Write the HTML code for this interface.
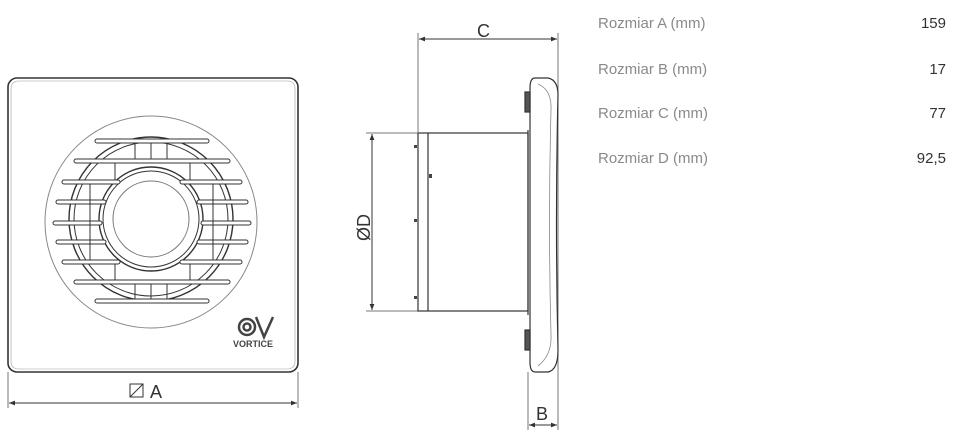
<!DOCTYPE html>
<html><head><style>
body{margin:0;background:#fff;width:954px;height:437px;overflow:hidden;font-family:"Liberation Sans",sans-serif}
.l{position:absolute;left:598px;font-size:15px;color:#8a8a8a}
.v{position:absolute;right:8px;font-size:15px;color:#333;text-align:right}
</style></head><body>
<svg width="954" height="437" style="position:absolute;left:0;top:0" font-family="Liberation Sans, sans-serif">
<defs><marker id="a" viewBox="0 0 10 10" refX="10" refY="5" markerWidth="8" markerHeight="6" orient="auto-start-reverse"><path d="M0,1L10,5L0,9z" fill="#333"/></marker></defs>
<g fill="none" stroke="#333">
<rect x="8" y="78" width="290" height="294" rx="9" stroke-width="1.6"/>
<rect x="11" y="81" width="284" height="288" rx="7" stroke="#999" stroke-width="0.6"/>
<circle cx="151" cy="222" r="106" stroke="#888" stroke-width="1"/>
<circle cx="151" cy="219" r="82" stroke-width="1.4"/>
<circle cx="151" cy="219" r="77" stroke-width="1"/>
<circle cx="151" cy="219" r="52" stroke-width="1.4"/>
<circle cx="151" cy="219" r="48" stroke-width="1"/>
<circle cx="151" cy="219" r="38" stroke="#777" stroke-width="1"/>
</g>
<g stroke="#333" stroke-width="1" fill="#fff">
<rect x="95" y="139" width="114" height="4" rx="2"/>
<rect x="74" y="159" width="156" height="4" rx="2"/>
<rect x="62" y="180" width="58" height="4" rx="2"/><rect x="180" y="180" width="62" height="4" rx="2"/>
<rect x="56" y="200" width="50" height="4" rx="2"/><rect x="197" y="200" width="51" height="4" rx="2"/>
<rect x="53" y="221" width="49" height="4" rx="2"/><rect x="201" y="221" width="50" height="4" rx="2"/>
<rect x="56" y="240" width="50" height="4" rx="2"/><rect x="197" y="240" width="51" height="4" rx="2"/>
<rect x="62" y="260" width="58" height="4" rx="2"/><rect x="180" y="260" width="62" height="4" rx="2"/>
<rect x="74" y="280" width="156" height="4" rx="2"/>
<rect x="95" y="299" width="114" height="4" rx="2"/>
</g>
<g stroke="#333" stroke-width="1">
<line x1="135" y1="143" x2="135" y2="159"/><line x1="151" y1="143" x2="151" y2="159"/><line x1="167" y1="143" x2="167" y2="159"/>
<line x1="135" y1="284" x2="135" y2="299"/><line x1="151" y1="284" x2="151" y2="299"/><line x1="167" y1="284" x2="167" y2="299"/>
<line x1="115" y1="163" x2="115" y2="180"/><line x1="190" y1="163" x2="190" y2="180"/>
<line x1="115" y1="264" x2="115" y2="280"/><line x1="190" y1="264" x2="190" y2="280"/>
<line x1="90" y1="184" x2="90" y2="260"/><line x1="213" y1="184" x2="213" y2="260"/>
</g>
<g fill="none" stroke="#444" stroke-width="2.5"><circle cx="247" cy="327" r="8"/><circle cx="247" cy="327" r="3.5"/><path d="M256,317 L264,337 L273,317"/></g>
<text x="233" y="347" font-size="9" font-weight="bold" fill="#444">VORTICE</text>
<g stroke="#777" stroke-width="1"><line x1="8" y1="372" x2="8" y2="408"/><line x1="298" y1="372" x2="298" y2="408"/>
<line x1="418" y1="33" x2="418" y2="132"/><line x1="558" y1="33" x2="558" y2="430"/><line x1="528" y1="372" x2="528" y2="430"/>
<line x1="366" y1="133" x2="418" y2="133"/><line x1="366" y1="311" x2="418" y2="311"/></g>
<g stroke="#333" stroke-width="1" marker-start="url(#a)" marker-end="url(#a)">
<line x1="9" y1="403" x2="297" y2="403"/><line x1="419" y1="39" x2="557" y2="39"/><line x1="372" y1="134" x2="372" y2="310"/><line x1="529" y1="425" x2="557" y2="425"/></g>
<rect x="130" y="384" width="13" height="13" fill="none" stroke="#333"/><line x1="130" y1="397" x2="143" y2="384" stroke="#333"/>
<text x="150" y="398" font-size="18" fill="#333">A</text>
<text x="477" y="37" font-size="18" fill="#333">C</text>
<text x="536" y="420" font-size="18" fill="#333">B</text>
<text transform="translate(370,241) rotate(-90)" font-size="18" fill="#333">ØD</text>
<g fill="#fff" stroke="#333" stroke-width="1.2">
<rect x="418" y="133" width="110" height="178"/>
<line x1="428" y1="133" x2="428" y2="311"/>
<path d="M535,78 L548,78 Q558,80 558,95 Q555,222 558,350 Q558,370 548,372 L535,372 Q530,372 530,362 L530,88 Q530,78 535,78z"/>
<path d="M538,84 Q552,90 551,110 Q548,222 551,335 Q552,355 538,366" fill="none" stroke="#888" stroke-width="0.8"/>
<rect x="525" y="92" width="5" height="20" fill="#555"/><rect x="525" y="330" width="5" height="20" fill="#555"/>
<line x1="528" y1="130" x2="528" y2="315"/>
</g>
<g fill="#444"><rect x="414" y="145" width="3" height="3"/><rect x="414" y="219" width="3" height="3"/><rect x="414" y="296" width="3" height="3"/><rect x="429" y="174" width="3" height="4"/></g>
</svg>
<div class="l" style="top:15px">Rozmiar A (mm)</div><div class="v" style="top:15px">159</div>
<div class="l" style="top:61px">Rozmiar B (mm)</div><div class="v" style="top:61px">17</div>
<div class="l" style="top:105px">Rozmiar C (mm)</div><div class="v" style="top:105px">77</div>
<div class="l" style="top:150px">Rozmiar D (mm)</div><div class="v" style="top:150px">92,5</div>
</body></html>
